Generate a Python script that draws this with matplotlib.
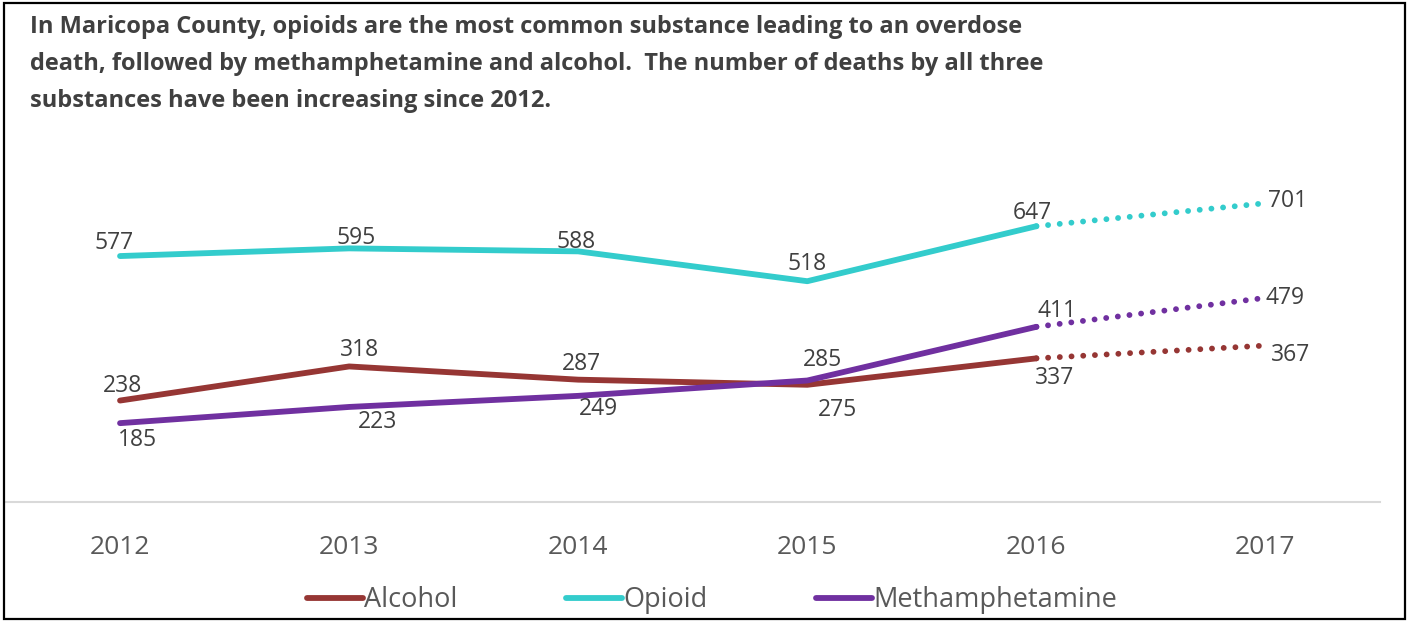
import matplotlib.pyplot as plt
from matplotlib.lines import Line2D
from matplotlib.patches import Rectangle

plt.rcParams['font.family'] = ['Open Sans', 'DejaVu Sans']

years = ['2012', '2013', '2014', '2015', '2016', '2017']
alcohol = [238, 318, 287, 275, 337, 367]
opioid = [577, 595, 588, 518, 647, 701]
meth = [185, 223, 249, 285, 411, 479]

# label offsets in pixels (dx, dy) from each point
alcohol_off = [(2, 15), (10, 16), (3, 16), (30, -25), (18, -20), (25, -9)]
opioid_off = [(-6, 13), (7, 10), (-2, 9), (0, 17), (-4, 13), (22, 2)]
meth_off = [(17, -17), (28, -15), (20, -13), (15, 21), (21, 16), (20, 0)]

series = [
    ('Alcohol', alcohol, '#963634', alcohol_off),
    ('Opioid', opioid, '#33CCCC', opioid_off),
    ('Methamphetamine', meth, '#7030A0', meth_off),
]

fig = plt.figure(figsize=(14.08, 6.21), dpi=100)
ax = fig.add_axes([5.5 / 1408, 119 / 621, 1374.5 / 1408, 341 / 621])

x = list(range(len(years)))
handles = []
for name, vals, color, offs in series:
    # solid through 2016, dotted for the last year
    ax.plot(x[:5], vals[:5], color=color, lw=4.2, solid_capstyle='round')
    ax.plot(x[4:], vals[4:], color=color, lw=4.2,
            linestyle=(0, (0.01, 2.0)), dash_capstyle='round')
    handles.append(Line2D([], [], color=color, lw=4.2, solid_capstyle='round'))
    for xi, v, (dx, dy) in zip(x, vals, offs):
        ax.annotate(str(v), (xi, v), xytext=(dx, dy), textcoords='offset pixels',
                    ha='center', va='center', fontsize=16.5, color='#404040')

ax.set_xlim(-0.5, 5.5)
ax.set_ylim(0, 800)
ax.set_xticks(x)
ax.set_xticklabels(years)
ax.tick_params(axis='x', length=0, pad=24, labelsize=19, labelcolor='#595959')
ax.set_yticks([])
for side in ['top', 'left', 'right']:
    ax.spines[side].set_visible(False)
ax.spines['bottom'].set_color('#d9d9d9')
ax.spines['bottom'].set_linewidth(1.5)

fig.text(30 / 1408, 1 - 15 / 621,
         'In Maricopa County, opioids are the most common substance leading to an overdose\n'
         'death, followed by methamphetamine and alcohol.  The number of deaths by all three\n'
         'substances have been increasing since 2012.',
         ha='left', va='top', fontsize=17, fontweight='bold', color='#404040',
         linespacing=1.72)

fig.legend(handles, [s[0] for s in series], loc='center', ncol=3,
           bbox_to_anchor=(712 / 1408, 21 / 621), frameon=False,
           fontsize=19.5, labelcolor='#595959', handlelength=2.07,
           handletextpad=0.05, columnspacing=4.0)

fig.patches.append(Rectangle((4 / 1408, 2 / 621), 1401 / 1408, 616 / 621,
                             transform=fig.transFigure, fill=False,
                             edgecolor='black', lw=1.6))

fig.savefig('out.png', dpi=100)
